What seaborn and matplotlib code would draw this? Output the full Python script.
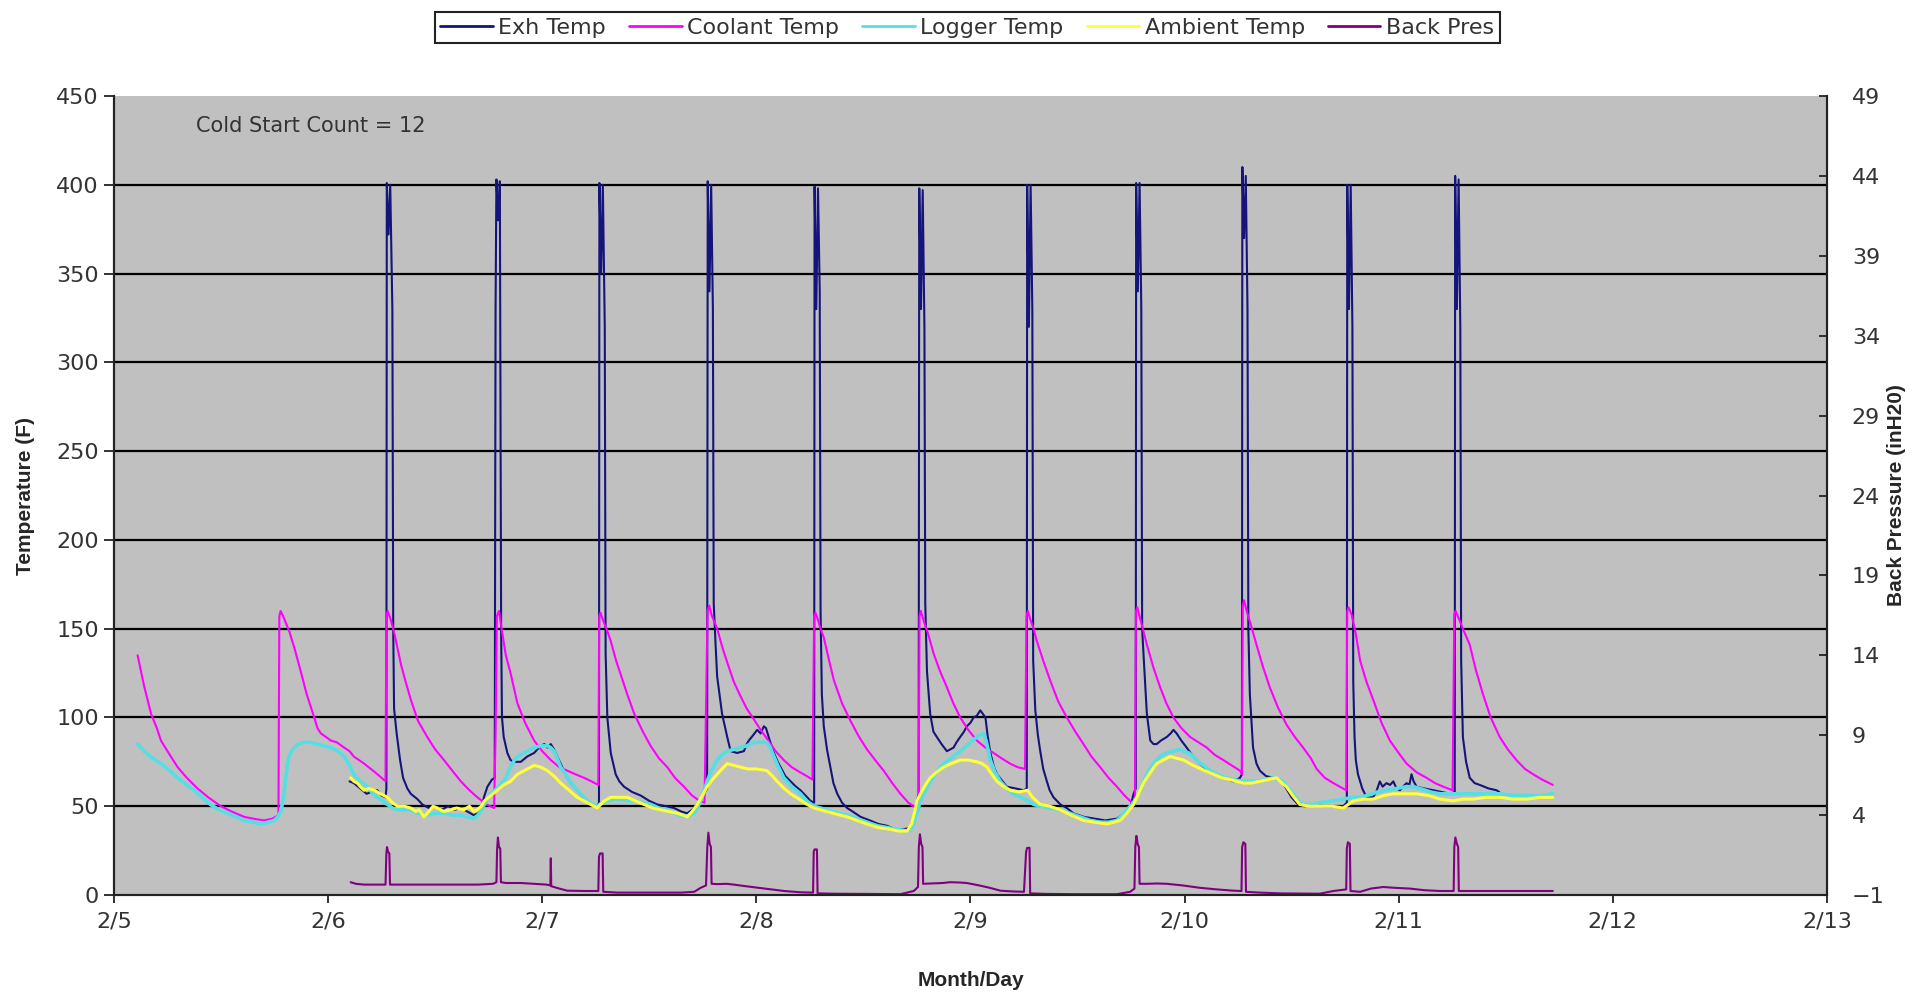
import numpy as np
import pandas as pd
import matplotlib
matplotlib.use("Agg")
import matplotlib.pyplot as plt
import seaborn as sns

# ---------------- data (x = days after 2/5 00:00) ----------------
day_labels = ["2/5", "2/6", "2/7", "2/8", "2/9", "2/10", "2/11", "2/12", "2/13"]
temp_ticks = [0, 50, 100, 150, 200, 250, 300, 350, 400, 450]
pres_ticks = [-1, 4, 9, 14, 19, 24, 29, 34, 39, 44, 49]
series_names = ["Exh Temp", "Coolant Temp", "Logger Temp", "Ambient Temp", "Back Pres"]
cold_start_count = 12

EXH = [
    (1.10, 64), (1.12, 63), (1.15, 60), (1.18, 57), (1.20, 58), (1.23, 59), (1.25, 56), (1.268, 55),
    (1.272, 60), (1.274, 401), (1.282, 372), (1.290, 400), (1.300, 330), (1.304, 150),
    (1.308, 105), (1.32, 91), (1.336, 76), (1.35, 66), (1.37, 60), (1.386, 57), (1.417, 54), (1.44, 51),
    (1.47, 49), (1.50, 50), (1.53, 48), (1.56, 50), (1.59, 48), (1.62, 49), (1.65, 47), (1.68, 45),
    (1.70, 46), (1.715, 49), (1.73, 56), (1.744, 61), (1.765, 65), (1.778, 66), (1.782, 330),
    (1.786, 403), (1.794, 380), (1.802, 402), (1.808, 150), (1.812, 100), (1.82, 89), (1.837, 80),
    (1.852, 76), (1.868, 75), (1.90, 75), (1.93, 78), (1.962, 80), (1.993, 84), (2.01, 85), (2.025, 83),
    (2.04, 85), (2.055, 82), (2.07, 78), (2.086, 74), (2.10, 70), (2.117, 66), (2.14, 62), (2.164, 59),
    (2.19, 55), (2.21, 53), (2.235, 51), (2.257, 50), (2.265, 52), (2.267, 401), (2.275, 350),
    (2.283, 400), (2.292, 320), (2.296, 136), (2.304, 100), (2.32, 80), (2.343, 68),
    (2.36, 64), (2.382, 61), (2.42, 58), (2.46, 56), (2.50, 53), (2.537, 51), (2.58, 50), (2.615, 49),
    (2.65, 47), (2.677, 46), (2.70, 48), (2.724, 51), (2.74, 54), (2.755, 57), (2.770, 60),
    (2.773, 402), (2.781, 340), (2.789, 400), (2.797, 330), (2.801, 164), (2.81, 140), (2.817, 123),
    (2.84, 102), (2.864, 89), (2.88, 81), (2.91, 80), (2.942, 81), (2.955, 85), (2.965, 87),
    (2.985, 90), (3.004, 93), (3.02, 91), (3.035, 95), (3.045, 94), (3.06, 88), (3.082, 80), (3.10, 75),
    (3.113, 72), (3.135, 67), (3.16, 64), (3.185, 61), (3.206, 59), (3.23, 56), (3.253, 53), (3.27, 52),
    (3.272, 399), (3.280, 330), (3.288, 398), (3.296, 340), (3.30, 160), (3.306, 113), (3.315, 95),
    (3.33, 82), (3.346, 72), (3.36, 63), (3.378, 57), (3.40, 52), (3.424, 49), (3.45, 47), (3.487, 44),
    (3.53, 42), (3.57, 40), (3.61, 39), (3.65, 37), (3.69, 37), (3.72, 38), (3.735, 44), (3.745, 50),
    (3.758, 57), (3.761, 398), (3.769, 330), (3.777, 397), (3.785, 320), (3.789, 164), (3.797, 126),
    (3.812, 102), (3.827, 92), (3.843, 89), (3.865, 85), (3.89, 81), (3.905, 82), (3.921, 83),
    (3.935, 86), (3.952, 89), (3.97, 92), (3.983, 95), (4.00, 97), (4.015, 100), (4.03, 101),
    (4.046, 104), (4.058, 102), (4.07, 100), (4.08, 90), (4.093, 80), (4.11, 72), (4.124, 68),
    (4.15, 64), (4.17, 61), (4.21, 60), (4.25, 59), (4.263, 60), (4.265, 400), (4.273, 320),
    (4.281, 400), (4.289, 330), (4.293, 132), (4.303, 104), (4.315, 90), (4.326, 81), (4.34, 71),
    (4.357, 64), (4.37, 59), (4.388, 55), (4.42, 51), (4.45, 49), (4.481, 46), (4.53, 44), (4.58, 43),
    (4.63, 42), (4.684, 43), (4.72, 46), (4.746, 49), (4.762, 57), (4.772, 60), (4.774, 401),
    (4.782, 340), (4.790, 401), (4.798, 330), (4.802, 150), (4.81, 132), (4.824, 102), (4.84, 87),
    (4.855, 85), (4.87, 85), (4.89, 87), (4.917, 89), (4.935, 91), (4.948, 93), (4.963, 91),
    (4.985, 87), (5.01, 83), (5.04, 78), (5.072, 74), (5.11, 70), (5.15, 68), (5.19, 66), (5.228, 64),
    (5.259, 66), (5.268, 68), (5.270, 410), (5.278, 370), (5.286, 405), (5.294, 330), (5.298, 150),
    (5.305, 113), (5.32, 83), (5.336, 74), (5.352, 70), (5.38, 67), (5.414, 66), (5.445, 65),
    (5.47, 61), (5.50, 55), (5.53, 51), (5.56, 50), (5.60, 51), (5.65, 50), (5.70, 50), (5.741, 50),
    (5.758, 52), (5.760, 400), (5.768, 330), (5.776, 400), (5.784, 320), (5.788, 120), (5.794, 89),
    (5.80, 76), (5.81, 68), (5.83, 60), (5.85, 55), (5.88, 55), (5.895, 58), (5.912, 64), (5.925, 61),
    (5.943, 63), (5.96, 62), (5.975, 64), (5.99, 60), (6.006, 59), (6.02, 61), (6.037, 63), (6.05, 62),
    (6.06, 68), (6.07, 64), (6.084, 61), (6.12, 60), (6.162, 59), (6.20, 58), (6.24, 57), (6.262, 58),
    (6.264, 405), (6.272, 330), (6.280, 403), (6.288, 320), (6.292, 132), (6.30, 89), (6.315, 75),
    (6.332, 66), (6.355, 63), (6.379, 62), (6.42, 60), (6.457, 59), (6.47, 58),
]

COOLANT = [
    (0.11, 135), (0.14, 118), (0.173, 102), (0.20, 94), (0.219, 87), (0.26, 79), (0.297, 72),
    (0.34, 66), (0.39, 60), (0.44, 55), (0.499, 50), (0.55, 47), (0.608, 44), (0.65, 43), (0.70, 42),
    (0.74, 43), (0.768, 45), (0.772, 157), (0.778, 160), (0.79, 157), (0.80, 154), (0.82, 148),
    (0.845, 138), (0.872, 126), (0.90, 113), (0.935, 100), (0.95, 94), (0.966, 91), (0.99, 89),
    (1.012, 87), (1.04, 86), (1.075, 83), (1.10, 81), (1.12, 78), (1.168, 74), (1.21, 70), (1.24, 67),
    (1.268, 64), (1.272, 157), (1.278, 160), (1.29, 156), (1.308, 148), (1.34, 130), (1.36, 121),
    (1.386, 110), (1.42, 98), (1.463, 89), (1.50, 82), (1.541, 76), (1.58, 70), (1.62, 64), (1.66, 59),
    (1.697, 55), (1.74, 51), (1.775, 49), (1.782, 90), (1.788, 157), (1.798, 160), (1.81, 150),
    (1.83, 135), (1.852, 125), (1.884, 108), (1.92, 97), (1.962, 87), (2.00, 81), (2.04, 76),
    (2.08, 72), (2.117, 70), (2.155, 68), (2.195, 66), (2.23, 64), (2.262, 62), (2.266, 157),
    (2.272, 159), (2.28, 156), (2.30, 150), (2.32, 143), (2.345, 132), (2.367, 124), (2.40, 112),
    (2.43, 102), (2.47, 92), (2.506, 84), (2.545, 77), (2.584, 72), (2.62, 66), (2.662, 61),
    (2.70, 56), (2.735, 53), (2.758, 52), (2.772, 160), (2.78, 163), (2.79, 158), (2.80, 155),
    (2.817, 150), (2.84, 140), (2.864, 131), (2.895, 120), (2.926, 112), (2.955, 105), (2.988, 99),
    (3.02, 93), (3.05, 88), (3.09, 81), (3.128, 76), (3.165, 72), (3.206, 69), (3.235, 67),
    (3.262, 65), (3.27, 157), (3.276, 159), (3.285, 156), (3.30, 150), (3.315, 145), (3.34, 132),
    (3.362, 121), (3.40, 108), (3.44, 98), (3.48, 89), (3.517, 82), (3.555, 76), (3.595, 70),
    (3.635, 63), (3.673, 57), (3.71, 52), (3.735, 50), (3.758, 48), (3.762, 157), (3.768, 160),
    (3.78, 155), (3.80, 148), (3.828, 136), (3.858, 126), (3.89, 117), (3.92, 108), (3.952, 100),
    (3.99, 93), (4.03, 87), (4.07, 83), (4.108, 80), (4.145, 77), (4.185, 74), (4.22, 72),
    (4.255, 71), (4.262, 157), (4.268, 160), (4.28, 155), (4.295, 150), (4.31, 143), (4.34, 132),
    (4.372, 121), (4.41, 109), (4.45, 100), (4.49, 92), (4.528, 85), (4.565, 78), (4.606, 72),
    (4.645, 66), (4.684, 61), (4.72, 56), (4.746, 53), (4.768, 51), (4.773, 160), (4.779, 162),
    (4.79, 157), (4.805, 150), (4.824, 141), (4.855, 128), (4.886, 117), (4.915, 108), (4.948, 100),
    (4.985, 94), (5.026, 89), (5.065, 86), (5.104, 83), (5.14, 79), (5.181, 76), (5.22, 73),
    (5.259, 70), (5.268, 68), (5.272, 163), (5.278, 166), (5.29, 160), (5.31, 152), (5.336, 141),
    (5.365, 129), (5.398, 117), (5.435, 106), (5.476, 96), (5.515, 89), (5.554, 83), (5.59, 77),
    (5.617, 71), (5.655, 66), (5.695, 63), (5.725, 61), (5.755, 59), (5.760, 160), (5.766, 162),
    (5.78, 158), (5.80, 147), (5.82, 132), (5.85, 120), (5.881, 110), (5.92, 97), (5.959, 87),
    (6.00, 80), (6.037, 74), (6.085, 69), (6.13, 66), (6.17, 63), (6.208, 61), (6.252, 59),
    (6.26, 158), (6.266, 160), (6.28, 156), (6.30, 150), (6.332, 141), (6.36, 127), (6.394, 113),
    (6.43, 100), (6.472, 89), (6.51, 82), (6.55, 76), (6.59, 71), (6.628, 68), (6.67, 65), (6.72, 62),
]

LOGGER = [
    (0.11, 85), (0.14, 81), (0.18, 77), (0.22, 74), (0.26, 70), (0.297, 66), (0.34, 62), (0.375, 59),
    (0.41, 55), (0.45, 51), (0.49, 48), (0.53, 46), (0.57, 44), (0.608, 42), (0.65, 41), (0.686, 40),
    (0.72, 41), (0.748, 42), (0.765, 44), (0.779, 47), (0.787, 52), (0.795, 58), (0.802, 66),
    (0.81, 74), (0.82, 79), (0.834, 82), (0.86, 85), (0.888, 86), (0.92, 86), (0.95, 85), (0.98, 84),
    (1.012, 83), (1.045, 81), (1.075, 78), (1.10, 73), (1.12, 68), (1.15, 64), (1.183, 61),
    (1.21, 57), (1.23, 55), (1.255, 53), (1.277, 51), (1.30, 49), (1.324, 48), (1.355, 48),
    (1.386, 48), (1.42, 46), (1.463, 45), (1.50, 46), (1.541, 46), (1.58, 45), (1.62, 45), (1.65, 44),
    (1.68, 43), (1.70, 45), (1.715, 48), (1.74, 53), (1.76, 57), (1.78, 59), (1.806, 62), (1.83, 66),
    (1.852, 72), (1.875, 77), (1.899, 79), (1.93, 81), (1.962, 83), (1.993, 84), (2.024, 84),
    (2.04, 83), (2.055, 81), (2.07, 77), (2.086, 72), (2.11, 68), (2.13, 64), (2.149, 61), (2.18, 57),
    (2.21, 53), (2.235, 51), (2.257, 50), (2.28, 52), (2.304, 53), (2.335, 54), (2.367, 54),
    (2.40, 53), (2.43, 53), (2.47, 52), (2.506, 51), (2.545, 49), (2.584, 48), (2.62, 46),
    (2.662, 44), (2.69, 45), (2.708, 46), (2.725, 49), (2.74, 53), (2.755, 58), (2.77, 64),
    (2.79, 70), (2.817, 76), (2.84, 79), (2.864, 81), (2.895, 82), (2.926, 83), (2.955, 84),
    (2.988, 86), (3.02, 86), (3.05, 86), (3.065, 83), (3.082, 78), (3.10, 73), (3.128, 66),
    (3.165, 61), (3.206, 57), (3.235, 53), (3.268, 50), (3.30, 49), (3.33, 48), (3.38, 46),
    (3.424, 45), (3.47, 43), (3.517, 41), (3.565, 39), (3.61, 38), (3.655, 37), (3.704, 36),
    (3.72, 37), (3.735, 40), (3.75, 46), (3.766, 53), (3.79, 59), (3.812, 64), (3.84, 69),
    (3.874, 74), (3.91, 77), (3.952, 81), (3.99, 85), (4.03, 89), (4.062, 91), (4.075, 86),
    (4.093, 76), (4.115, 69), (4.14, 64), (4.17, 60), (4.20, 57), (4.235, 55), (4.267, 53),
    (4.296, 51), (4.326, 50), (4.37, 49), (4.419, 48), (4.465, 46), (4.512, 44), (4.56, 42),
    (4.606, 41), (4.645, 41), (4.684, 42), (4.71, 45), (4.73, 48), (4.755, 51), (4.777, 55),
    (4.80, 61), (4.824, 68), (4.855, 74), (4.886, 78), (4.915, 80), (4.948, 81), (4.975, 82),
    (4.995, 81), (5.02, 80), (5.04, 78), (5.065, 75), (5.088, 73), (5.12, 70), (5.15, 68),
    (5.19, 66), (5.228, 65), (5.275, 64), (5.30, 64), (5.336, 64), (5.375, 65), (5.414, 66),
    (5.44, 65), (5.46, 64), (5.485, 60), (5.507, 57), (5.53, 53), (5.554, 51), (5.60, 51),
    (5.63, 52), (5.69, 53), (5.741, 54), (5.788, 55), (5.82, 55), (5.85, 56), (5.90, 58),
    (5.943, 59), (5.99, 60), (6.037, 61), (6.07, 61), (6.10, 60), (6.15, 58), (6.193, 57),
    (6.255, 57), (6.30, 57), (6.348, 57), (6.41, 57), (6.472, 57), (6.535, 56), (6.597, 56),
    (6.66, 56), (6.72, 57),
]

AMBIENT = [
    (1.105, 66), (1.12, 64), (1.137, 63), (1.15, 61), (1.168, 59), (1.19, 60), (1.214, 59),
    (1.23, 58), (1.246, 57), (1.262, 56), (1.277, 55), (1.30, 52), (1.324, 50), (1.355, 50),
    (1.386, 49), (1.41, 47), (1.425, 48), (1.448, 44), (1.47, 47), (1.49, 50), (1.51, 49),
    (1.54, 47), (1.572, 48), (1.60, 49), (1.634, 48), (1.66, 50), (1.68, 47), (1.697, 48),
    (1.715, 50), (1.73, 53), (1.76, 56), (1.79, 59), (1.82, 62), (1.852, 64), (1.884, 68),
    (1.915, 70), (1.946, 72), (1.962, 73), (1.993, 72), (2.024, 70), (2.055, 67), (2.086, 63),
    (2.125, 59), (2.164, 55), (2.21, 52), (2.257, 49), (2.29, 53), (2.32, 55), (2.36, 55),
    (2.398, 55), (2.435, 53), (2.475, 51), (2.515, 49), (2.553, 48), (2.59, 47), (2.631, 46),
    (2.655, 45), (2.677, 44), (2.70, 47), (2.724, 51), (2.748, 56), (2.77, 61), (2.795, 65),
    (2.817, 68), (2.84, 71), (2.864, 74), (2.895, 73), (2.926, 72), (2.96, 71), (3.00, 71),
    (3.05, 70), (3.075, 67), (3.097, 64), (3.13, 60), (3.16, 57), (3.20, 54), (3.237, 51),
    (3.27, 49), (3.30, 48), (3.36, 46), (3.424, 44), (3.47, 42), (3.517, 40), (3.57, 38),
    (3.626, 37), (3.665, 36), (3.704, 36), (3.725, 40), (3.74, 47), (3.75, 53), (3.766, 57),
    (3.79, 62), (3.812, 66), (3.84, 69), (3.874, 72), (3.91, 74), (3.952, 76), (3.99, 76),
    (4.03, 75), (4.055, 74), (4.077, 72), (4.10, 68), (4.124, 64), (4.155, 61), (4.185, 59),
    (4.225, 58), (4.267, 59), (4.29, 55), (4.326, 51), (4.37, 50), (4.419, 48), (4.47, 45),
    (4.528, 42), (4.58, 41), (4.637, 40), (4.67, 41), (4.70, 42), (4.73, 46), (4.762, 51),
    (4.785, 57), (4.808, 63), (4.84, 69), (4.87, 74), (4.90, 76), (4.933, 78), (4.965, 77),
    (4.995, 76), (5.025, 74), (5.057, 72), (5.095, 70), (5.135, 68), (5.175, 66), (5.213, 65),
    (5.245, 64), (5.275, 63), (5.31, 63), (5.352, 64), (5.39, 65), (5.43, 66), (5.455, 63),
    (5.476, 61), (5.505, 56), (5.538, 51), (5.58, 50), (5.631, 50), (5.69, 50), (5.741, 49),
    (5.765, 51), (5.788, 53), (5.835, 54), (5.88, 54), (5.93, 56), (5.975, 57), (6.03, 57),
    (6.084, 57), (6.14, 56), (6.193, 54), (6.255, 53), (6.30, 54), (6.348, 54), (6.41, 55),
    (6.472, 55), (6.535, 54), (6.597, 54), (6.66, 55), (6.72, 55),
]

BACKPRES = [
    (1.105, -0.2), (1.13, -0.3), (1.168, -0.35), (1.22, -0.35), (1.268, -0.35), (1.272, 1.6),
    (1.275, 2.0), (1.280, 1.7), (1.286, 1.6), (1.289, -0.35), (1.32, -0.35), (1.40, -0.35),
    (1.50, -0.35), (1.60, -0.35), (1.70, -0.35), (1.77, -0.3), (1.786, -0.2), (1.789, 1.8),
    (1.793, 2.6), (1.798, 2.0), (1.804, 1.9), (1.807, -0.2), (1.83, -0.25), (1.90, -0.25),
    (1.962, -0.3), (2.02, -0.35), (2.038, -0.4), (2.040, 1.3), (2.042, -0.45), (2.08, -0.6),
    (2.117, -0.73), (2.20, -0.75), (2.262, -0.75), (2.265, 1.4), (2.270, 1.6), (2.282, 1.6),
    (2.285, -0.8), (2.351, -0.85), (2.45, -0.85), (2.55, -0.85), (2.65, -0.85), (2.71, -0.8),
    (2.74, -0.55), (2.765, -0.4), (2.771, 2.0), (2.776, 2.9), (2.782, 2.2), (2.788, 2.0),
    (2.791, -0.3), (2.817, -0.32), (2.86, -0.3), (2.895, -0.35), (2.95, -0.45), (3.05, -0.62),
    (3.13, -0.75), (3.206, -0.83), (3.265, -0.85), (3.268, 1.7), (3.272, 1.85), (3.283, 1.85),
    (3.286, -0.9), (3.362, -0.92), (3.50, -0.93), (3.673, -0.95), (3.735, -0.75), (3.755, -0.5),
    (3.759, 2.0), (3.764, 2.8), (3.770, 2.2), (3.776, 2.0), (3.779, -0.3), (3.82, -0.28),
    (3.87, -0.25), (3.905, -0.2), (3.95, -0.22), (3.983, -0.25), (4.04, -0.4), (4.09, -0.55),
    (4.14, -0.73), (4.20, -0.78), (4.25, -0.8), (4.260, 1.7), (4.265, 1.95), (4.276, 1.95),
    (4.279, -0.9), (4.35, -0.93), (4.50, -0.95), (4.684, -0.95), (4.746, -0.8), (4.766, -0.6),
    (4.770, 2.0), (4.775, 2.7), (4.781, 2.2), (4.787, 2.0), (4.790, -0.3), (4.824, -0.3),
    (4.87, -0.28), (4.917, -0.3), (4.99, -0.4), (5.072, -0.55), (5.15, -0.65), (5.228, -0.73),
    (5.266, -0.75), (5.269, 2.0), (5.275, 2.3), (5.284, 2.2), (5.287, -0.8), (5.352, -0.85),
    (5.45, -0.9), (5.631, -0.92), (5.695, -0.75), (5.755, -0.65), (5.758, 1.9), (5.763, 2.3),
    (5.772, 2.2), (5.775, -0.75), (5.82, -0.8), (5.87, -0.6), (5.928, -0.5), (5.98, -0.55),
    (6.053, -0.6), (6.12, -0.7), (6.193, -0.75), (6.257, -0.75), (6.260, 2.0), (6.265, 2.6),
    (6.272, 2.2), (6.278, 2.0), (6.281, -0.75), (6.317, -0.75), (6.50, -0.75), (6.72, -0.75),
]

# ---------------- styling ----------------
sns.set_theme(style="white")
plt.rcParams["font.family"] = ["DejaVu Sans"]
TITLE_FONT = ["Liberation Sans", "DejaVu Sans"]

colors = {
    "Exh Temp": "#14147a",
    "Coolant Temp": "#ff00ff",
    "Logger Temp": "#55dfe3",
    "Ambient Temp": "#ffff3a",
    "Back Pres": "#800080",
}
widths = {"Exh Temp": 1.5, "Coolant Temp": 1.5, "Logger Temp": 2.6, "Ambient Temp": 2.2, "Back Pres": 1.5}


def to_frame(pairs):
    return pd.DataFrame(pairs, columns=["day", "value"])


fig = plt.figure(figsize=(19.23, 9.93), dpi=100)
ax = fig.add_axes([0.0593, 0.0987, 0.8907, 0.8046])
ax.set_facecolor("#c0c0c0")
ax2 = ax.twinx()

left_series = [("Exh Temp", EXH), ("Coolant Temp", COOLANT), ("Logger Temp", LOGGER), ("Ambient Temp", AMBIENT)]
for name, pairs in left_series:
    sns.lineplot(data=to_frame(pairs), x="day", y="value", ax=ax, color=colors[name],
                 linewidth=widths[name], estimator=None, sort=False, legend=False)
sns.lineplot(data=to_frame(BACKPRES), x="day", y="value", ax=ax2, color=colors["Back Pres"],
             linewidth=widths["Back Pres"], estimator=None, sort=False, legend=False)

# axes limits / ticks
ax.set_xlim(0, 8)
ax.set_xticks(range(len(day_labels)))
ax.set_xticklabels(day_labels)
ax.set_ylim(temp_ticks[0], temp_ticks[-1])
ax.set_yticks(temp_ticks)
ax2.set_ylim(pres_ticks[0], pres_ticks[-1])
ax2.set_yticks(pres_ticks)

ax.grid(False)
ax2.grid(False)
for t in temp_ticks[1:-1]:
    ax.axhline(t, color="black", linewidth=1.6, zorder=0.5)

for a in (ax, ax2):
    a.spines["top"].set_visible(False)
    for s in ("left", "right", "bottom"):
        a.spines[s].set_color("#222222")
        a.spines[s].set_linewidth(1.5)

ax.tick_params(axis="y", direction="out", length=7, width=1.3, color="#222222", labelsize=16,
               pad=4, left=True, labelcolor="#333333")
ax.tick_params(axis="x", direction="out", length=6, width=1.3, color="#222222", labelsize=16,
               pad=6, bottom=True, labelcolor="#333333")
ax2.tick_params(axis="y", direction="in", length=6, width=1.3, color="#222222", labelsize=16,
                pad=18, right=True, labelcolor="#333333")

ax.set_xlabel("Month/Day", fontsize=15, fontweight="bold", family=TITLE_FONT)
ax.xaxis.set_label_coords(0.5, -0.095)
ax.set_ylabel("Temperature (F)", fontsize=15, fontweight="bold", family=TITLE_FONT)
ax.yaxis.set_label_coords(-0.046, 0.5)
ax2.set_ylabel("Back Pressure (inH20)", fontsize=15, fontweight="bold", family=TITLE_FONT,
               rotation=90)
ax2.yaxis.set_label_coords(1.035, 0.5)

ax.text(0.048, 0.9625, f"Cold Start Count = {cold_start_count}", transform=ax.transAxes,
        fontsize=15, color="#333333", va="center", ha="left")

# legend
handles = [plt.Line2D([], [], color=colors[n], linewidth=2.0) for n in series_names]
leg = fig.legend(handles, series_names, loc="center", bbox_to_anchor=(0.503, 0.972), ncol=5,
                 frameon=True, fancybox=False, edgecolor="#222222", facecolor="white", framealpha=1,
                 fontsize=16, handlelength=2.35, handletextpad=0.25, columnspacing=1.05,
                 borderpad=0.25)
leg.get_frame().set_linewidth(1.5)
for txt in leg.get_texts():
    txt.set_color("#333333")

fig.savefig("out.png", dpi=100)
